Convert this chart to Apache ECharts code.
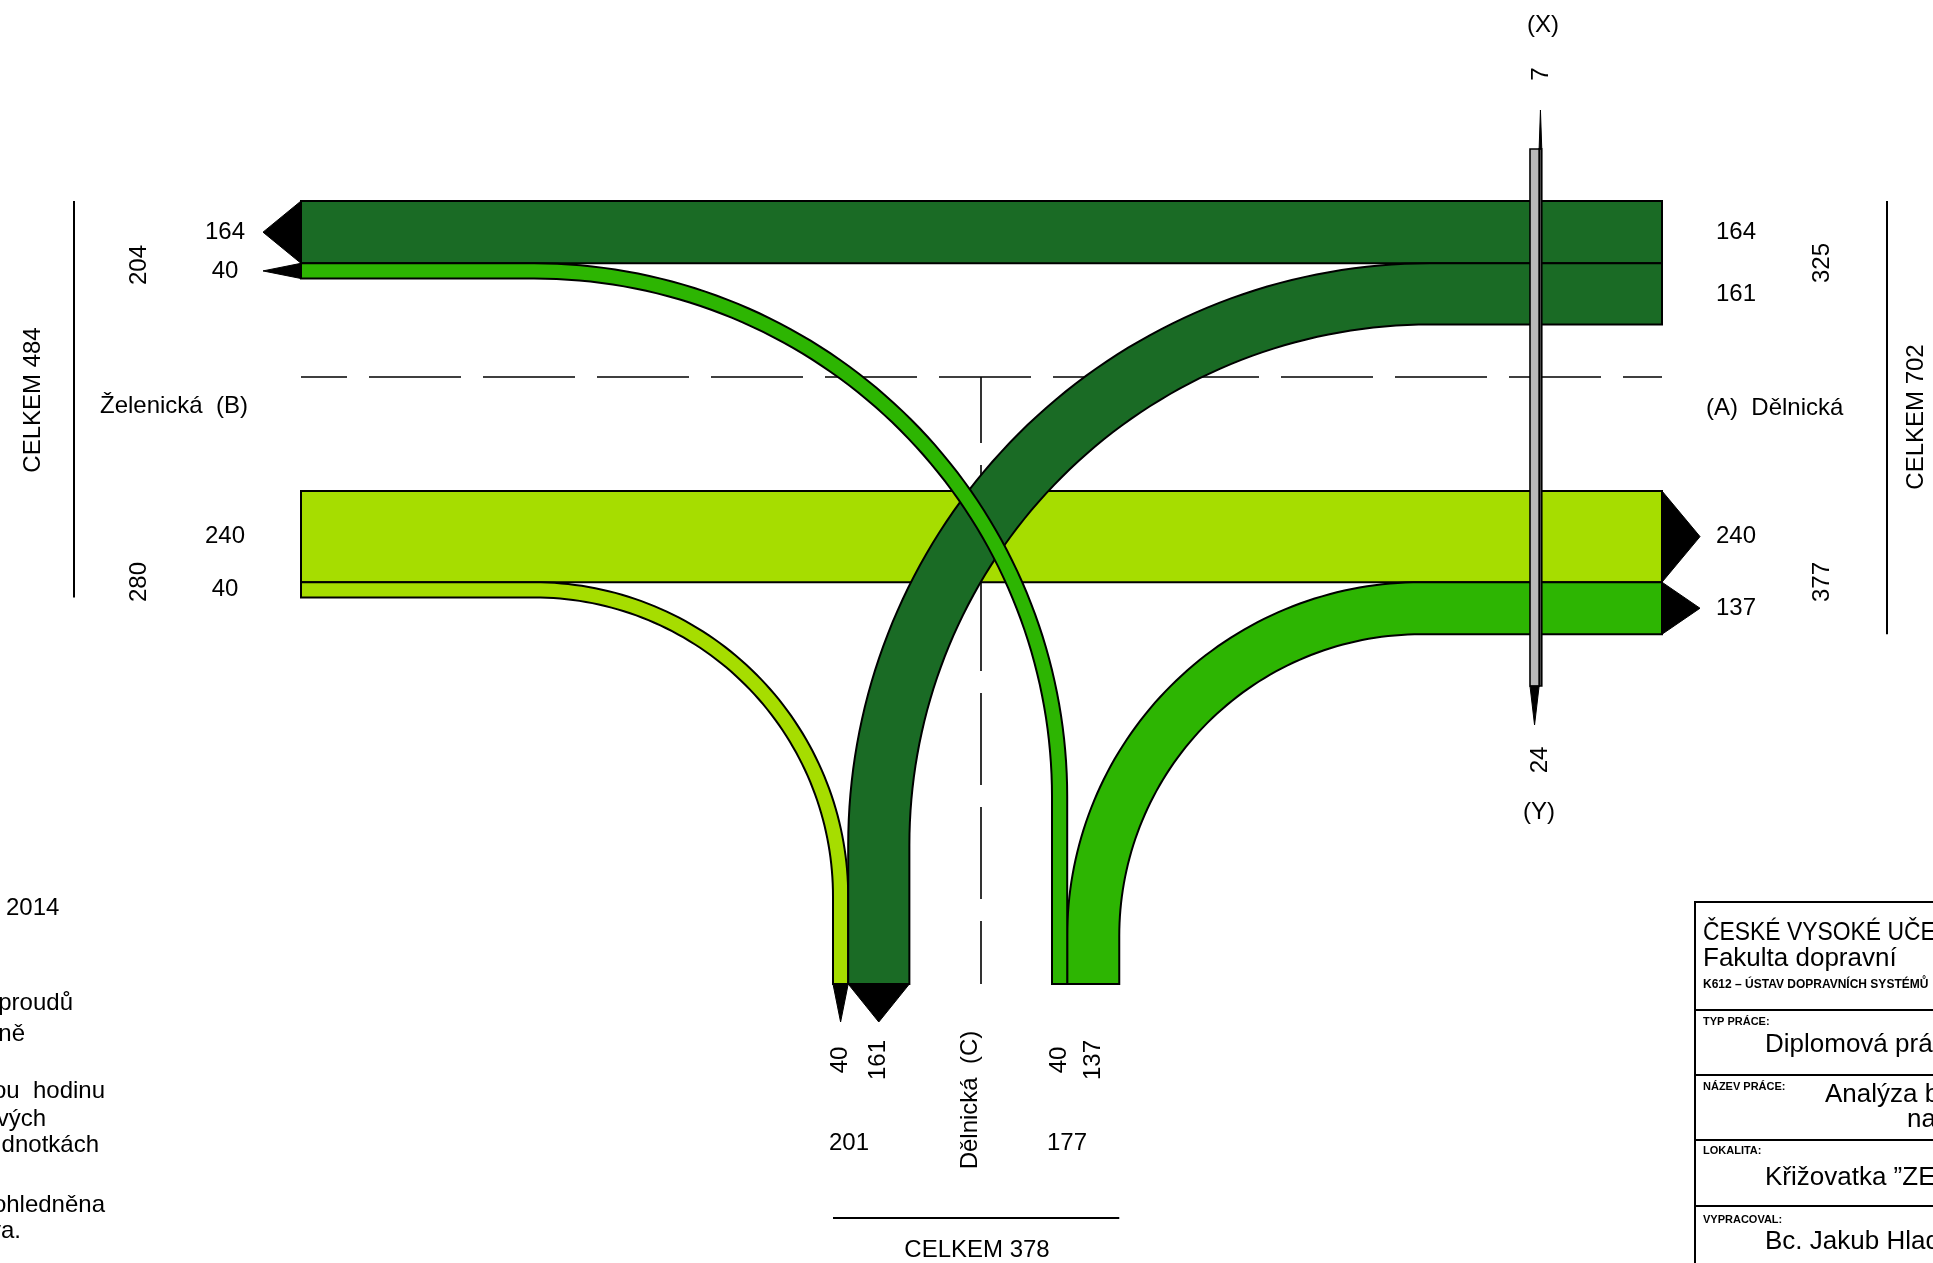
<!DOCTYPE html>
<html lang="cs">
<head>
<meta charset="utf-8">
<title>Intenzity dopravních proudů</title>
<script src="https://cdn.jsdelivr.net/npm/echarts@6/dist/echarts.min.js"></script>
<style>
html,body{margin:0;padding:0;background:#ffffff;overflow:hidden;}
#chart{width:1933px;height:1263px;}
</style>
</head>
<body>
<div id="chart"></div>
<script>
// ================= DATA =================
const flowNames  = ['A→B', 'A→C', 'B→A', 'B→C', 'C→A', 'C→B'];
const flowValues = [164, 161, 240, 40, 137, 40];
const pedNames   = ['X', 'Y'];
const pedValues  = [7, 24];
const armLabels  = ['(A)  Dělnická', 'Želenická  (B)', 'Dělnická  (C)'];
const totalWord  = 'CELKEM';
const noteLines  = ['2014', 'proudů', 'ně', 'ou  hodinu', 'vých', 'dnotkách', 'ohledněna', 'va.'];
const tbHeads    = ['TYP PRÁCE:', 'NÁZEV PRÁCE:', 'LOKALITA:', 'VYPRACOVAL:'];
const tbTexts    = ['ČESKÉ VYSOKÉ UČENÍ TECHNICKÉ V PRAZE', 'Fakulta dopravní', 'K612 – ÚSTAV DOPRAVNÍCH SYSTÉMŮ',
                    'Diplomová práce', 'Analýza b', 'na', 'Křižovatka ”ZE', 'Bc. Jakub Hlad'];

// ================= LAYOUT / STYLE =================
const SCALE = 0.38;             // px per vehicle
const LAY = {
  xL: 301, xR: 1662, yTop: 201, yLow: 491, yBot: 984,
  xExit: 833, xEntry: 1052, xTurnW: 534, xTurnAC: 1430, xTurnCA: 1421,
  arrowLen: 38,
  labLeftX: 225, labRightX: 1736, labBotY: 1060,
  sumLeftX: 139, sumRightX: 1822, sumBotY: 1143,
  pedX: 1530, pedTop: 149, pedBot: 686, pedArrow: 39,
  dashY: 377, dashX: 981
};
const COLORS = {'A→B':'#1a6b25','A→C':'#1a6b25','B→A':'#a6dd00','B→C':'#a6dd00','C→A':'#2db502','C→B':'#2db502'};
const PED_COLORS = {'X':'#4a4a4a','Y':'#b8b8b8'};
const DRAW_ORDER = ['B→A','B→C','C→A','A→B','A→C','C→B'];
const FONT = '"Liberation Sans", Arial, sans-serif';

// ================= GEOMETRY =================
function arcPts(cx, cy, r, a0, a1, n) {
  n = n || 72; const pts = [];
  for (let i = 0; i <= n; i++) {
    const a = (a0 + (a1 - a0) * i / n) * Math.PI / 180;
    pts.push([cx + r * Math.cos(a), cy + r * Math.sin(a)]);
  }
  return pts;
}
const W = {}; flowNames.forEach((n, i) => W[n] = flowValues[i] * SCALE);
const V = {}; flowNames.forEach((n, i) => V[n] = flowValues[i]);

function buildGeometry() {
  const g = {};
  const L = LAY;
  const AB = [L.yTop, L.yTop + W['A→B']];
  const CB = [AB[1], AB[1] + W['C→B']];
  const AC = [AB[1], AB[1] + W['A→C']];
  const BA = [L.yLow, L.yLow + W['B→A']];
  const BC = [BA[1], BA[1] + W['B→C']];
  const CA = [BA[1], BA[1] + W['C→A']];
  const xBC = [L.xExit, L.xExit + W['B→C']];
  const xAC = [xBC[1], xBC[1] + W['A→C']];
  const xCB = [L.xEntry, L.xEntry + W['C→B']];
  const xCA = [xCB[1], xCB[1] + W['C→A']];
  const a = L.arrowLen;
  const leftArrow  = (y) => [[L.xL, y[0]], [L.xL - a, (y[0] + y[1]) / 2], [L.xL, y[1]]];
  const rightArrow = (y) => [[L.xR, y[0]], [L.xR + a, (y[0] + y[1]) / 2], [L.xR, y[1]]];
  const downArrow  = (x) => [[x[0], L.yBot], [(x[0] + x[1]) / 2, L.yBot + a], [x[1], L.yBot]];

  g['A→B'] = { poly: [[L.xL, AB[0]], [L.xR, AB[0]], [L.xR, AB[1]], [L.xL, AB[1]]], arrow: leftArrow(AB) };
  g['B→A'] = { poly: [[L.xL, BA[0]], [L.xR, BA[0]], [L.xR, BA[1]], [L.xL, BA[1]]], arrow: rightArrow(BA) };
  {
    const cx = L.xTurnAC, R = cx - xAC[0], cy = AC[0] + R, r = cx - xAC[1];
    g['A→C'] = { poly: [[L.xR, AC[0]], ...arcPts(cx, cy, R, -90, -180), [xAC[0], L.yBot], [xAC[1], L.yBot],
                        ...arcPts(cx, cy, r, -180, -90), [L.xR, AC[1]]], arrow: downArrow(xAC) };
  }
  {
    const cx = L.xTurnCA, R = cx - xCA[0], cy = CA[0] + R, r = cx - xCA[1];
    g['C→A'] = { poly: [[xCA[0], L.yBot], ...arcPts(cx, cy, R, -180, -90), [L.xR, CA[0]], [L.xR, CA[1]],
                        ...arcPts(cx, cy, r, -90, -180), [xCA[1], L.yBot]], arrow: rightArrow(CA) };
  }
  {
    const cx = L.xTurnW, R = xBC[1] - cx, cy = BC[0] + R, r = xBC[0] - cx;
    g['B→C'] = { poly: [[L.xL, BC[0]], ...arcPts(cx, cy, R, -90, 0), [xBC[1], L.yBot], [xBC[0], L.yBot],
                        ...arcPts(cx, cy, r, 0, -90), [L.xL, BC[1]]], arrow: downArrow(xBC) };
  }
  {
    const cx = L.xTurnW, R = xCB[1] - cx, cy = CB[0] + R, r = xCB[0] - cx;
    g['C→B'] = { poly: [[L.xL, CB[0]], ...arcPts(cx, cy, R, -90, 0), [xCB[1], L.yBot], [xCB[0], L.yBot],
                        ...arcPts(cx, cy, r, 0, -90), [L.xL, CB[1]]], arrow: leftArrow(CB) };
  }
  const mid = (p) => (p[0] + p[1]) / 2;
  g.labels = [
    { t: V['A→B'], x: L.labLeftX, y: mid(AB) }, { t: V['C→B'], x: L.labLeftX, y: mid(CB) },
    { t: V['B→A'], x: L.labLeftX, y: mid(BA) }, { t: V['B→C'], x: L.labLeftX, y: mid(BC) },
    { t: V['A→B'], x: L.labRightX, y: mid(AB) }, { t: V['A→C'], x: L.labRightX, y: mid(AC) },
    { t: V['B→A'], x: L.labRightX, y: mid(BA) }, { t: V['C→A'], x: L.labRightX, y: mid(CA) },
    { t: V['B→C'], x: mid(xBC), y: L.labBotY, rot: true }, { t: V['A→C'], x: mid(xAC), y: L.labBotY, rot: true },
    { t: V['C→B'], x: mid(xCB), y: L.labBotY, rot: true }, { t: V['C→A'], x: mid(xCA), y: L.labBotY, rot: true }
  ];
  const bOut = V['A→B'] + V['C→B'], bIn = V['B→A'] + V['B→C'];
  const aIn = V['A→B'] + V['A→C'], aOut = V['B→A'] + V['C→A'];
  const cOut = V['B→C'] + V['A→C'], cIn = V['C→B'] + V['C→A'];
  g.labels.push(
    { t: bOut, x: L.sumLeftX, y: 265, rot: true }, { t: bIn, x: L.sumLeftX, y: 582, rot: true },
    { t: aIn, x: L.sumRightX, y: 263, rot: true }, { t: aOut, x: L.sumRightX, y: 582, rot: true },
    { t: cOut, x: 849, y: L.sumBotY }, { t: cIn, x: 1067, y: L.sumBotY },
    { t: totalWord + ' ' + (bOut + bIn), x: 33, y: 400, rot: true },
    { t: totalWord + ' ' + (aIn + aOut), x: 1916, y: 417, rot: true },
    { t: totalWord + ' ' + (cOut + cIn), x: 977, y: 1250 },
    { t: armLabels[1], x: 100, y: 406, align: 'left' },
    { t: armLabels[0], x: 1706, y: 408, align: 'left' },
    { t: armLabels[2], x: 970, y: 1100, rot: true }
  );
  g.lines = [
    { x1: 74, y1: L.yTop, x2: 74, y2: BC[1] },
    { x1: 1887, y1: L.yTop, x2: 1887, y2: CA[1] },
    { x1: xBC[0], y1: 1218, x2: xCA[1], y2: 1218 }
  ];
  return g;
}
const GEO = buildGeometry();

function buildPed() {
  const L = LAY;
  const wY = pedValues[pedNames.indexOf('Y')] * SCALE;
  const wX = pedValues[pedNames.indexOf('X')] * SCALE;
  const y0 = [L.pedX, L.pedX + wY], x0 = [y0[1], y0[1] + wX];
  return {
    Y: { poly: [[y0[0], L.pedTop], [y0[1], L.pedTop], [y0[1], L.pedBot], [y0[0], L.pedBot]],
         arrow: [[y0[0], L.pedBot], [(y0[0] + y0[1]) / 2, L.pedBot + L.pedArrow], [y0[1], L.pedBot]] },
    X: { poly: [[x0[0], L.pedTop], [x0[1], L.pedTop], [x0[1], L.pedBot], [x0[0], L.pedBot]],
         arrow: [[x0[0], L.pedTop], [(x0[0] + x0[1]) / 2, L.pedTop - L.pedArrow], [x0[1], L.pedTop]] },
    labels: [
      { t: '(' + pedNames[0] + ')', x: 1543, y: 25 },
      { t: String(pedValues[0]), x: 1541, y: 74, rot: true },
      { t: String(pedValues[1]), x: 1540, y: 760, rot: true },
      { t: '(' + pedNames[1] + ')', x: 1539, y: 812 }
    ]
  };
}
const PED = buildPed();

// ================= CHART =================
const chart = echarts.init(document.getElementById('chart'), null, { renderer: 'canvas' });

function txt(api, o, size, weight, sx) {
  const p = api.coord([o.x, o.y]);
  const font = (weight ? weight + ' ' : '') + (size || 24) + 'px ' + FONT;
  const al = o.align || 'center';
  return {
    type: 'text', x: p[0], y: p[1], rotation: o.rot ? Math.PI / 2 : 0, scaleX: sx || 1, z2: 100,
    style: { text: String(o.t), x: 0, y: 0, font: font, fill: '#000',
             align: al, textAlign: al, verticalAlign: 'middle', textVerticalAlign: 'middle' }
  };
}

const option = {
  animation: false,
  backgroundColor: '#ffffff',
  grid: { left: 0, right: 0, top: 0, bottom: 0 },
  xAxis: { type: 'value', min: 0, max: 1933, show: false },
  yAxis: { type: 'value', min: 0, max: 1263, inverse: true, show: false },
  series: [
    {
      type: 'custom', z: 1, clip: false, silent: true,
      data: [[0, 0]],
      renderItem: function (params, api) {
        const c = (x, y) => api.coord([x, y]);
        const ch = [];
        const h1 = c(LAY.xL, LAY.dashY), h2 = c(LAY.xR, LAY.dashY);
        ch.push({ type: 'line', shape: { x1: h1[0], y1: h1[1], x2: h2[0], y2: h2[1] },
                  style: { stroke: '#000', lineWidth: 1.6, lineDash: [92, 22], lineDashOffset: 46 } });
        const v1 = c(LAY.dashX, LAY.dashY), v2 = c(LAY.dashX, LAY.yBot);
        ch.push({ type: 'line', shape: { x1: v1[0], y1: v1[1], x2: v2[0], y2: v2[1] },
                  style: { stroke: '#000', lineWidth: 1.6, lineDash: [92, 22], lineDashOffset: 26 } });
        return { type: 'group', children: ch };
      }
    },
    {
      type: 'custom', z: 2, clip: false, silent: true,
      data: flowValues.map((v, i) => [i, v]),
      renderItem: function (params, api) {
        const name = flowNames[api.value(0)];
        const g = GEO[name];
        const order = DRAW_ORDER.indexOf(name);
        const px = (p) => api.coord(p);
        return { type: 'group', children: [
          { type: 'polygon', z2: order * 10, shape: { points: g.poly.map(px) },
            style: { fill: COLORS[name], stroke: '#000', lineWidth: 2, lineJoin: 'miter' } },
          { type: 'polygon', z2: order * 10 + 1, shape: { points: g.arrow.map(px) },
            style: { fill: '#000', stroke: '#000', lineWidth: 1 } }
        ] };
      }
    },
    {
      type: 'custom', z: 3, clip: false, silent: true,
      data: pedValues.map((v, i) => [i, v]),
      renderItem: function (params, api) {
        const name = pedNames[api.value(0)];
        const g = PED[name];
        const px = (p) => api.coord(p);
        return { type: 'group', children: [
          { type: 'polygon', shape: { points: g.poly.map(px) },
            style: { fill: PED_COLORS[name], stroke: '#000', lineWidth: 1.6 } },
          { type: 'polygon', shape: { points: g.arrow.map(px) }, style: { fill: '#000', stroke: '#000', lineWidth: 1 } }
        ] };
      }
    },
    {
      type: 'custom', z: 4, clip: false, silent: true,
      data: [[0, 0]],
      renderItem: function (params, api) {
        const ch = [];
        GEO.labels.forEach(o => ch.push(txt(api, o, 24)));
        PED.labels.forEach(o => ch.push(txt(api, o, 24)));
        GEO.lines.forEach(l => {
          const a = api.coord([l.x1, l.y1]), b = api.coord([l.x2, l.y2]);
          ch.push({ type: 'line', shape: { x1: a[0], y1: a[1], x2: b[0], y2: b[1] }, style: { stroke: '#000', lineWidth: 2 } });
        });
        const noteY = [908, 1003, 1034, 1091, 1119, 1145, 1205, 1231];
        const noteX = [6, 73, 25, 105, 46, 99, 105, 21];
        noteLines.forEach((t, i) => ch.push(txt(api, { t: t, x: noteX[i], y: noteY[i], align: i === 0 ? 'left' : 'right' }, 24)));
        const tl = api.coord([1695, 902]), br = api.coord([1960, 1290]);
        ch.push({ type: 'rect', shape: { x: tl[0], y: tl[1], width: br[0] - tl[0], height: br[1] - tl[1] },
                  style: { fill: 'none', stroke: '#000', lineWidth: 2 } });
        [1010, 1075, 1140, 1206].forEach(y => {
          const a = api.coord([1695, y]), b = api.coord([1933, y]);
          ch.push({ type: 'line', shape: { x1: a[0], y1: a[1], x2: b[0], y2: b[1] }, style: { stroke: '#000', lineWidth: 2 } });
        });
        const headY = [1022, 1087, 1151, 1220];
        tbHeads.forEach((t, i) => ch.push(txt(api, { t: t, x: 1703, y: headY[i], align: 'left' }, 11, 'bold')));
        const tb = [
          { x: 1703, y: 933, s: 26, sx: 0.88 }, { x: 1703, y: 959, s: 26 }, { x: 1703, y: 985, s: 12, w: 'bold' },
          { x: 1765, y: 1045, s: 26 }, { x: 1825, y: 1095, s: 26 }, { x: 1907, y: 1120, s: 26 },
          { x: 1765, y: 1178, s: 26 }, { x: 1765, y: 1242, s: 26 }
        ];
        tbTexts.forEach((t, i) => ch.push(txt(api, { t: t, x: tb[i].x, y: tb[i].y, align: 'left' }, tb[i].s, tb[i].w, tb[i].sx)));
        return { type: 'group', children: ch };
      }
    }
  ]
};
chart.setOption(option);
</script>
</body>
</html>
